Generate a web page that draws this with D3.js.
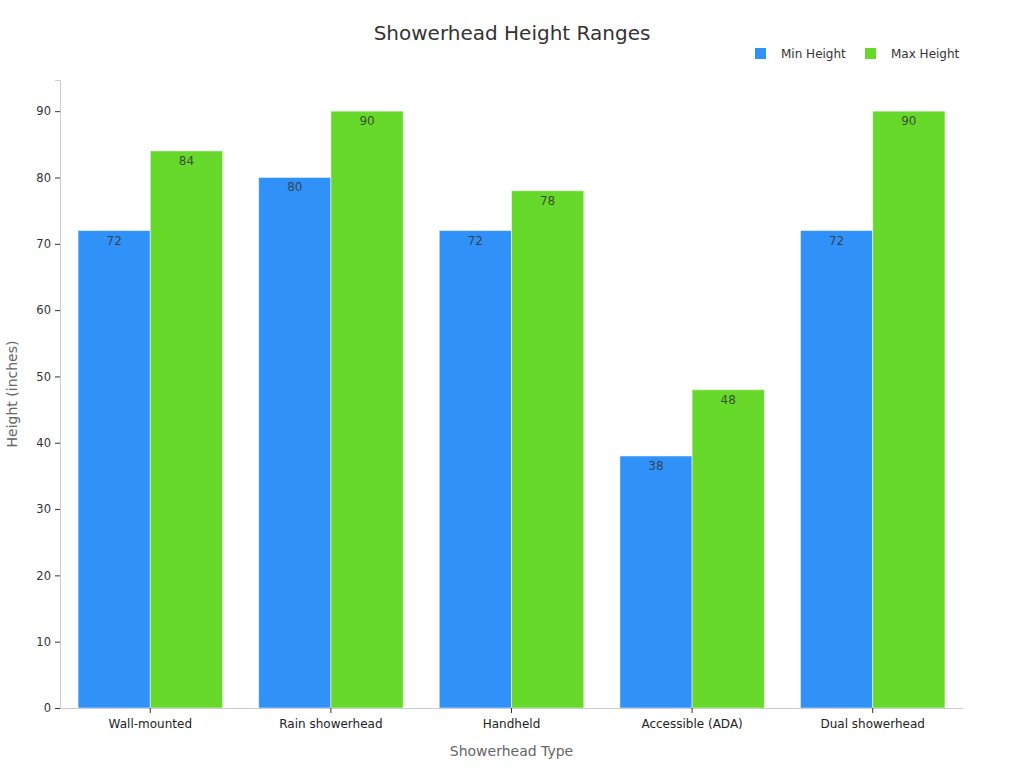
<!DOCTYPE html>
<html>
<head>
<meta charset="utf-8">
<script src="https://cdn.jsdelivr.net/npm/d3@7"></script>
<style>
  body { margin: 0; background: #fff; font-family: "DejaVu Sans", sans-serif; }
</style>
</head>
<body>
<svg id="chart" width="1024" height="768"></svg>
<script>
const categories = ["Wall-mounted", "Rain showerhead", "Handheld", "Accessible (ADA)", "Dual showerhead"]
const minHeight = [72, 80, 72, 38, 72]
const maxHeight = [84, 90, 78, 48, 90]
const seriesNames = ["Min Height", "Max Height"]
const yTicks = [0, 10, 20, 30, 40, 50, 60, 70, 80, 90]

const colors = { "Min Height": "#3092f8", "Max Height": "#66d92a" }
const margin = { top: 80, right: 61, bottom: 60, left: 60 },
    width = 1024 - margin.left - margin.right,
    height = 768 - margin.top - margin.bottom

const data = categories.map((c, i) => ({ cat: c, "Min Height": minHeight[i], "Max Height": maxHeight[i] }))

const svg = d3.select("#chart")
const g = svg.append("g").attr("transform", "translate(" + margin.left + "," + margin.top + ")")

const x = d3.scaleBand().domain(categories).range([0, width]).paddingInner(0.2).paddingOuter(0.1)
const x1 = d3.scaleBand().domain(seriesNames).range([0, x.bandwidth()])
const y = d3.scaleLinear().domain([0, 94.7]).range([height, 0])

// y axis
const yAxis = g.append("g").call(d3.axisLeft(y).tickValues(yTicks).tickSize(5).tickPadding(4))
yAxis.select(".domain").attr("stroke", "#ccc")
yAxis.selectAll(".tick line").attr("stroke", "#333")
yAxis.selectAll("text").attr("fill", "#333").style("font-size", "11.5px").style("font-family", "DejaVu Sans")

// bars
const groups = g.selectAll(".grp").data(data).join("g")
    .attr("transform", d => "translate(" + x(d.cat) + ",0)")
groups.selectAll("rect")
    .data(d => seriesNames.map(k => ({ key: k, value: d[k] })))
    .join("rect")
    .attr("x", d => x1(d.key))
    .attr("width", x1.bandwidth())
    .attr("y", d => y(d.value))
    .attr("height", d => height - y(d.value))
    .attr("fill", d => colors[d.key])
    .attr("stroke", "rgba(255,255,255,0.5)")
    .attr("stroke-width", 1)
groups.selectAll("text")
    .data(d => seriesNames.map(k => ({ key: k, value: d[k] })))
    .join("text")
    .attr("x", d => x1(d.key) + x1.bandwidth() / 2)
    .attr("y", d => y(d.value) + 14)
    .attr("text-anchor", "middle")
    .attr("fill", "#333")
    .attr("fill-opacity", 0.85)
    .style("font-size", "12px")
    .text(d => d.value)

// x axis
const xAxis = g.append("g").attr("transform", "translate(0," + height + ")")
    .call(d3.axisBottom(x).tickSize(5).tickPadding(6).tickSizeOuter(0))
xAxis.select(".domain").attr("stroke", "#ccc")
xAxis.selectAll(".tick line").attr("stroke", "#333")
xAxis.selectAll("text").attr("fill", "#222").style("font-size", "12px").style("font-family", "DejaVu Sans")

// titles
svg.append("text").attr("x", 512).attr("y", 40).attr("text-anchor", "middle")
    .attr("fill", "#333").style("font-size", "20px").text("Showerhead Height Ranges")
svg.append("text").attr("x", margin.left + width / 2).attr("y", 756).attr("text-anchor", "middle")
    .attr("fill", "#666").style("font-size", "14px").text("Showerhead Type")
svg.append("text").attr("transform", "rotate(-90)").attr("x", -394).attr("y", 17)
    .attr("text-anchor", "middle").attr("fill", "#666").style("font-size", "14px").text("Height (inches)")

// legend
const legendX = [755, 865]
const legend = svg.append("g").selectAll("g").data(seriesNames).join("g")
    .attr("transform", (d, i) => "translate(" + legendX[i] + ",48)")
legend.append("rect").attr("width", 11).attr("height", 11).attr("fill", d => colors[d])
legend.append("text").attr("x", 26).attr("y", 10).attr("fill", "#333")
    .style("font-size", "12px").text(d => d)
</script>
</body>
</html>
